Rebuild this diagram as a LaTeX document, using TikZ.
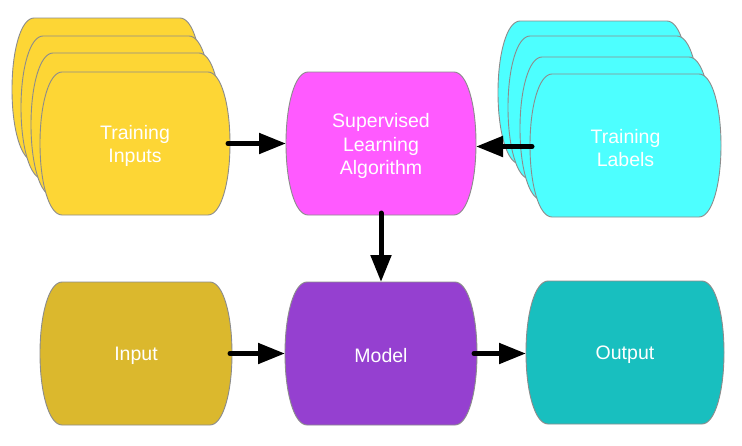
\documentclass[tikz,border=0pt]{standalone}
\usepackage{fontspec}
\setmainfont{Liberation Sans}
\usetikzlibrary{arrows.meta}
\definecolor{cYellow}{HTML}{FDD635}
\definecolor{cMagenta}{HTML}{FF5AFF}
\definecolor{cCyan}{HTML}{4DFFFF}
\definecolor{cGold}{HTML}{DBB82D}
\definecolor{cPurple}{HTML}{9540D0}
\definecolor{cTeal}{HTML}{18BFBF}
\definecolor{cEdge}{HTML}{8C8C8C}
\tikzset{
  cardline/.style={draw=cEdge, line width=0.9pt},
  cardbox/.style={inner sep=0pt, outer sep=0pt, rectangle},
  cardtext/.style={text=white, font=\fontsize{19.5}{23.5}\selectfont, align=center, inner sep=0pt},
  flow/.style={line width=5pt, line cap=round, -{Triangle[length=27pt,width=20pt]}, black}
}
\newcommand\mycard[7]{%
  \pgfmathsetmacro\cardym{(#3+#5)/2}%
  \pgfmathsetmacro\cardhh{(#5-#3)/2}%
  \pgfmathsetmacro\cardww{#4-#2}%
  \pgfmathsetmacro\cardht{#5-#3}%
  \filldraw[cardline, fill=#6] ({#2+22},#3) -- ({#4-22},#3)
    .. controls ({#4-9},#3) and (#4,{#3+0.45*\cardhh}) .. (#4,\cardym)
    .. controls (#4,{#5-0.45*\cardhh}) and ({#4-9},#5) .. ({#4-22},#5)
    -- ({#2+22},#5)
    .. controls ({#2+9},#5) and (#2,{#5-0.45*\cardhh}) .. (#2,\cardym)
    .. controls (#2,{#3+0.45*\cardhh}) and ({#2+9},#3) .. cycle;
  \node[cardbox, minimum width=\cardww pt, minimum height=\cardht pt] (#1) at ({(#2+#4)/2},\cardym) {};
  \node[cardtext] (#1-t) at ([yshift=-2.5pt]#1.center) {#7};
}
\begin{document}
\begin{tikzpicture}[x=1pt,y=-1pt]
\useasboundingbox (0,0) rectangle (742,445);
% Training inputs stack
\mycard{tia}{12}{18}{202}{161}{cYellow}{}
\mycard{tib}{21}{36}{211}{179}{cYellow}{}
\mycard{tic}{31}{53}{221}{196}{cYellow}{}
\mycard{tin}{40}{72}{230}{215}{cYellow}{Training\\Inputs}
% Training labels stack
\mycard{tla}{498}{21}{689}{164}{cCyan}{}
\mycard{tlb}{508}{36}{699}{179}{cCyan}{}
\mycard{tlc}{520}{57}{711}{200}{cCyan}{}
\mycard{tll}{530}{74}{721}{217}{cCyan}{Training\\Labels}
% algorithm
\mycard{sla}{286}{72}{476}{215}{cMagenta}{Supervised\\Learning\\Algorithm}
% bottom row
\mycard{inp}{40}{282}{232}{425}{cGold}{Input}
\mycard{mod}{285}{282}{477}{425}{cPurple}{Model}
\mycard{out}{526}{281}{724}{424}{cTeal}{Output}
% arrows
\draw[flow] ([xshift=-2pt]tin.east) -- (tin.east -| sla.west);
\draw[flow] ([xshift=2pt,yshift=-1pt]tll.west) -- ([yshift=-1pt]tll.west -| sla.east);
\draw[flow] ([yshift=2pt]sla.south) -- (sla.south |- mod.north);
\draw[flow] ([xshift=-2pt]inp.east) -- (inp.east -| mod.west);
\draw[flow] ([xshift=-3pt]mod.east) -- (mod.east -| out.west);
\end{tikzpicture}
\end{document}
